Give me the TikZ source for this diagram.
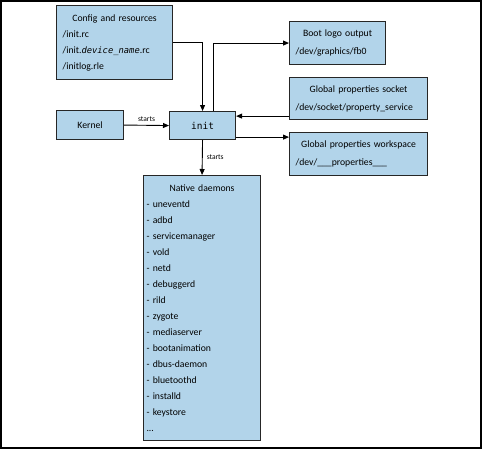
\documentclass[tikz,border=0pt]{standalone}
\usepackage{fontspec}
\setmainfont{Carlito}
\newfontfamily\initfont{DejaVu Sans Mono}
\usetikzlibrary{arrows.meta}
\definecolor{boxblue}{RGB}{178,212,234}
\tikzset{
  blk/.style={draw=black!85, line width=1.1pt, fill=boxblue, anchor=north west,
    inner xsep=6pt, inner ysep=0pt, align=left,
    font=\fontsize{9.7}{16}\selectfont},
  arr/.style={line width=0.9pt, -{Triangle[length=6pt,width=5pt]}},
  lbl/.style={font=\fontsize{7.5}{9}\selectfont, inner sep=1pt}
}
\newcommand{\ctr}[1]{\hbox to \hsize{\hss #1\hss}\\}
\begin{document}
\begin{tikzpicture}[x=1pt,y=-1pt]
  \useasboundingbox (0,0) rectangle (484,452);
  \draw[line width=1.6pt] (1,1) rectangle (481,448);

  % boxes
  \node[blk, text width=104pt, minimum height=74pt] (config) at (56,5)
    {\ctr{Config and resources}/init.rc\\/init.{\initfont\itshape\fontsize{8.8}{16}\selectfont device\_name}.rc\\/initlog.rle};
  \node[blk, text width=84pt, minimum height=43pt, font=\fontsize{9.7}{18}\selectfont] (boot) at (289,21)
    {\ctr{Boot logo output}/dev/graphics/fb0};
  \node[blk, text width=126pt, minimum height=42pt, font=\fontsize{9.7}{18}\selectfont] (socket) at (289,77)
    {\ctr{Global properties socket}/dev/socket/property\_service};
  \node[blk, text width=126pt, minimum height=43pt, font=\fontsize{9.7}{18}\selectfont] (workspace) at (289,132)
    {\ctr{Global properties workspace}/dev/\_\_\_properties\_\_\_};
  \node[blk, minimum width=67pt, minimum height=29pt, align=center] (kernel) at (56,110) {Kernel};
  \node[blk, minimum width=66pt, minimum height=28pt, align=center, font=\initfont\fontsize{9.5}{12}\selectfont] (init) at (169,111) {init};
  \node[blk, text width=111pt, inner xsep=3pt, minimum height=265pt] (native) at (143,175)
    {\ctr{Native daemons}- uneventd\\- adbd\\- servicemanager\\- vold\\- netd\\- debuggerd\\- rild\\- zygote\\- mediaserver\\- bootanimation\\- dbus-daemon\\- bluetoothd\\- installd\\- keystore\\...};

  % connectors
  \draw[arr] (config.east) -| (init.north);
  \draw[arr] ([xshift=11pt]init.north) |- (boot.west);
  \draw[arr] ([yshift=4pt]socket.south west) -- ([yshift=4pt]socket.south west -| init.east);
  \draw[arr] ([yshift=3pt]init.south east) -- ([yshift=3pt]init.south east -| workspace.west);
  \draw[arr] (kernel.east) -- node[lbl, above=2pt] {starts} (init.west);
  \draw[arr] (init.south) -- node[lbl, right=3pt] {starts} (native.north);
\end{tikzpicture}
\end{document}
